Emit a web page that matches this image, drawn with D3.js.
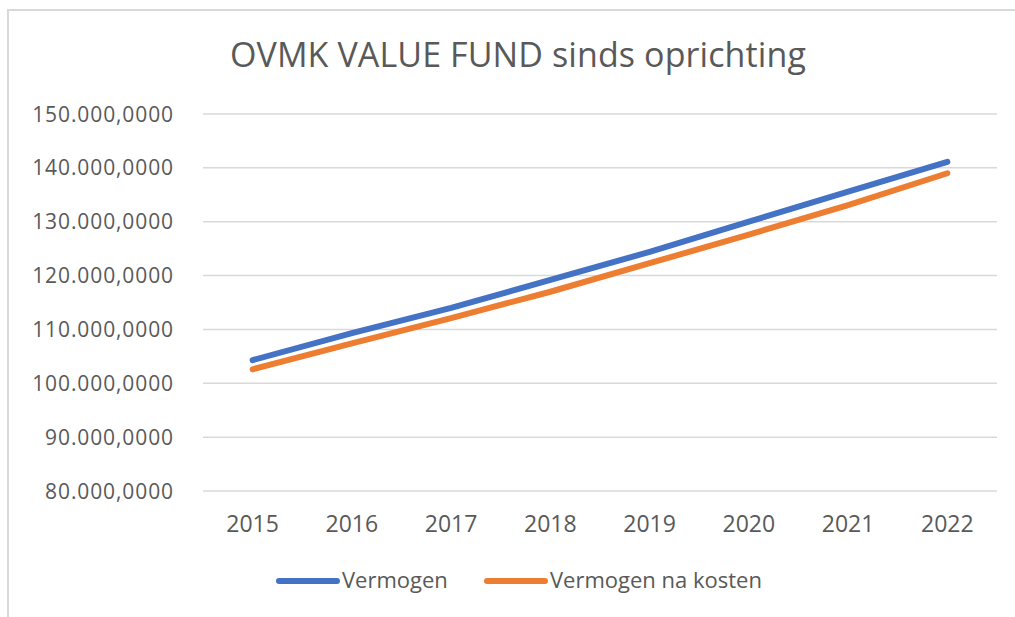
<!DOCTYPE html>
<html>
<head>
<meta charset="utf-8">
<script src="https://cdn.jsdelivr.net/npm/d3@7"></script>
<style>
  body { margin: 0; background: #fff; }
  svg { display: block; font-family: "Open Sans", sans-serif; }
</style>
</head>
<body>
<div id="chart"></div>
<script>
// categories and series
var years = ["2015", "2016", "2017", "2018", "2019", "2020", "2021", "2022"];
var vermogen = [104.3, 109.3, 114.0, 119.2, 124.4, 130.0, 135.6, 141.1];
var vermogenNaKosten = [102.6, 107.4, 112.1, 117.0, 122.3, 127.6, 133.1, 139.0];
var yTicks = [80, 90, 100, 110, 120, 130, 140, 150];
var seriesNames = ["Vermogen", "Vermogen na kosten"];
var seriesColors = ["#4472C4", "#ED7D31"];

var width = 1015, height = 617;
var plot = {left: 203, right: 997, top: 114, bottom: 491};

var svg = d3.select("#chart")
  .append("svg")
    .attr("width", width)
    .attr("height", height);

// chart frame (only left and top edges fall inside the picture)
svg.append("path")
  .attr("d", `M8,${height} L8,10 L${width},10`)
  .attr("fill", "none")
  .attr("stroke", "#d9d9d9")
  .attr("stroke-width", 2);

// title
svg.append("text")
  .attr("x", 518)
  .attr("y", 67)
  .attr("text-anchor", "middle")
  .style("font-size", "34px")
  .style("letter-spacing", "0.1px")
  .style("fill", "#595959")
  .text("OVMK VALUE FUND sinds oprichting");

var x = d3.scalePoint()
  .domain(years)
  .range([plot.left, plot.right])
  .padding(0.5);

var y = d3.scaleLinear()
  .domain([80, 150])
  .range([plot.bottom, plot.top]);

// gridlines
svg.append("g")
  .selectAll("line")
  .data(yTicks)
  .join("line")
    .attr("x1", plot.left)
    .attr("x2", plot.right)
    .attr("y1", d => y(d))
    .attr("y2", d => y(d))
    .attr("stroke", "#d9d9d9")
    .attr("stroke-width", 1.5);

// y axis labels
var fmt = d3.formatLocale({decimal: ",", thousands: ".", grouping: [3], currency: ["", ""]});
var yFormat = d => fmt.format(",.4f")(d * 1000);

svg.append("g")
  .selectAll("text")
  .data(yTicks)
  .join("text")
    .attr("x", 174)
    .attr("y", d => y(d))
    .attr("dy", "0.36em")
    .attr("text-anchor", "end")
    .style("font-size", "21px")
    .style("letter-spacing", "0.9px")
    .style("fill", "#595959")
    .text(yFormat);

// x axis labels
svg.append("g")
  .selectAll("text")
  .data(years)
  .join("text")
    .attr("x", d => x(d))
    .attr("y", 532)
    .attr("text-anchor", "middle")
    .style("font-size", "23px")
    .style("fill", "#595959")
    .text(d => d);

// lines
var line = d3.line()
  .x((d, i) => x(years[i]))
  .y(d => y(d));

[vermogen, vermogenNaKosten].forEach(function(values, i) {
  svg.append("path")
    .datum(values)
    .attr("d", line)
    .attr("fill", "none")
    .attr("stroke", seriesColors[i])
    .attr("stroke-width", 6)
    .attr("stroke-linecap", "round")
    .attr("stroke-linejoin", "round");
});

// legend
var legendX = [279, 487];
var legend = svg.append("g")
  .selectAll("g")
  .data(seriesNames)
  .join("g")
    .attr("transform", (d, i) => `translate(${legendX[i]},581)`);

legend.append("line")
  .attr("x1", 0)
  .attr("x2", 58)
  .attr("stroke", (d, i) => seriesColors[i])
  .attr("stroke-width", 6)
  .attr("stroke-linecap", "round");

legend.append("text")
  .attr("x", 63)
  .attr("y", 7)
  .style("font-size", "22px")
  .style("fill", "#595959")
  .text(d => d);
</script>
</body>
</html>
